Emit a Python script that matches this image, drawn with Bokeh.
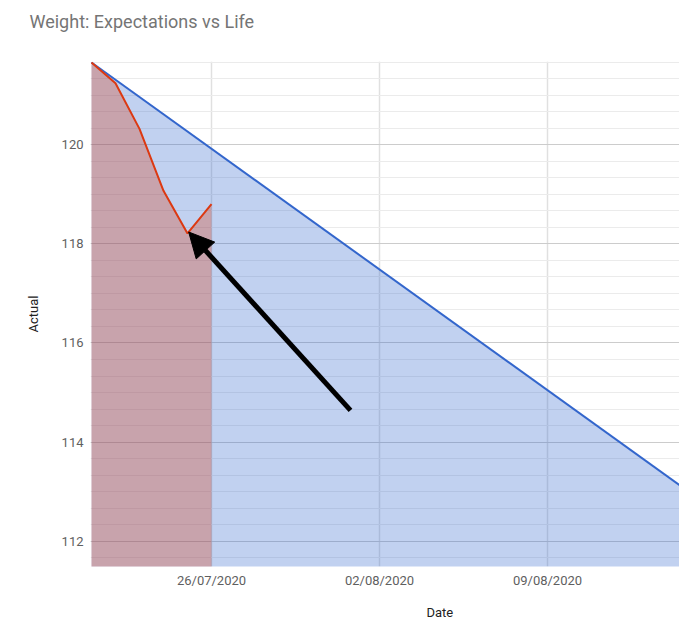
import pandas as pd
from bokeh.plotting import figure
from bokeh.models import (Range1d, SingleIntervalTicker, FixedTicker, DatetimeTickFormatter,
                          Arrow, NormalHead, Title)
from bokeh.embed import file_html
from bokeh.resources import INLINE

# ---- data ----
actual_dates = ["2020-07-21", "2020-07-22", "2020-07-23", "2020-07-24", "2020-07-25", "2020-07-26"]
actual_weights = [121.66, 121.24, 120.32, 119.07, 118.21, 118.80]
expected_dates = ["2020-07-21", "2020-08-15"]
expected_weights = [121.66, 112.96]
x_tick_dates = ["2020-07-26", "2020-08-02", "2020-08-09"]
x_tick_labels = ["26/07/2020", "02/08/2020", "09/08/2020"]
arrow_tail = ("2020-07-31 19:00", 114.64)
arrow_tip = ("2020-07-25 01:10", 118.24)


def ms(d):
    return pd.Timestamp(d).value / 1e6


FONT = "Roboto"

ax = pd.to_datetime(actual_dates)
ex = pd.to_datetime(expected_dates)
tick_ms = [ms(d) for d in x_tick_dates]

p = figure(width=679, height=633, x_axis_type="datetime", output_backend="svg",
           toolbar_location=None,
           x_range=Range1d(pd.Timestamp("2020-07-20 23:00"), pd.Timestamp("2020-08-14 12:00")),
           y_range=Range1d(111.49, 121.68),
           min_border_left=90, min_border_right=0, min_border_top=61, min_border_bottom=67)
p.outline_line_color = None
p.background_fill_color = "white"
p.border_fill_color = "white"

# spacer between title and plot area
p.add_layout(Title(text=" ", text_font_size="13px", standoff=8), "above")

# title
p.title.text = "Weight: Expectations vs Life"
p.title.text_font = FONT
p.title.text_font_size = "18px"
p.title.text_font_style = "normal"
p.title.text_color = "#757575"
p.title.align = "left"
p.title.offset = -61

# grids
yticker = SingleIntervalTicker(interval=2, num_minor_ticks=6)
p.yaxis.ticker = yticker
p.ygrid.ticker = yticker
p.ygrid.grid_line_color = "#cccccc"
p.ygrid.minor_grid_line_color = "#ebebeb"

xticker = FixedTicker(ticks=tick_ms)
p.xaxis.ticker = xticker
p.xgrid.ticker = xticker
p.xgrid.grid_line_color = "#e0e0e0"
p.xgrid.grid_line_width = 1.5

fmt = "%d/%m/%Y"
p.xaxis.formatter = DatetimeTickFormatter(days=fmt, months=fmt, hours=fmt, years=fmt)
p.xaxis.major_label_overrides = {t: lab for t, lab in zip(tick_ms, x_tick_labels)}

for axis in (p.xaxis, p.yaxis):
    axis.axis_line_color = None
    axis.major_tick_line_color = None
    axis.minor_tick_line_color = None
    axis.major_tick_out = 0
    axis.minor_tick_out = 0
    axis.major_tick_in = 0
    axis.minor_tick_in = 0
    axis.major_label_text_font = FONT
    axis.major_label_text_font_size = "13px"
    axis.major_label_text_color = "#5f5f5f"

p.yaxis.major_label_standoff = 7
p.xaxis.major_label_standoff = 6
p.yaxis.axis_label = "Actual"
p.yaxis.axis_label_text_font = FONT
p.yaxis.axis_label_text_font_size = "13px"
p.yaxis.axis_label_text_font_style = "normal"
p.yaxis.axis_label_text_color = "#222222"
p.yaxis.axis_label_standoff = 18

# areas
p.varea(x=ex, y1=expected_weights, y2=0, fill_color="#3366CC", fill_alpha=0.3)
p.varea(x=ax, y1=actual_weights, y2=0, fill_color="#DC3912", fill_alpha=0.3)
# lines
p.line(x=ex, y=expected_weights, line_color="#3366CC", line_width=2)
p.line(x=ax, y=actual_weights, line_color="#DC3912", line_width=2)

# arrow annotation
p.add_layout(Arrow(end=NormalHead(size=25, fill_color="black", line_color="black", line_width=1),
                   x_start=ms(arrow_tail[0]), y_start=arrow_tail[1],
                   x_end=ms(arrow_tip[0]), y_end=arrow_tip[1],
                   line_width=5, line_color="black"))

# x axis title (chart is cropped on the right in the reference, so it sits off-centre)
p.add_layout(Title(text="Date", align="left", offset=336, text_font=FONT,
                   text_font_size="13px", text_font_style="normal",
                   text_color="#222222", standoff=24), "below")

open("out.html", "w").write(file_html(p, INLINE))
